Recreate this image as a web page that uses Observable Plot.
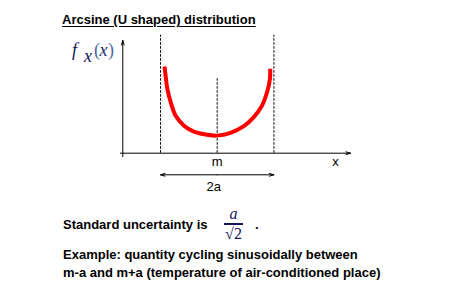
<!DOCTYPE html>
<html>
<head>
<meta charset="utf-8">
<script src="https://cdn.jsdelivr.net/npm/d3@7"></script>
<script src="https://cdn.jsdelivr.net/npm/@observablehq/plot@0.6"></script>
<style>
  html, body { margin: 0; padding: 0; background: #fff; }
  #page { position: relative; width: 461px; height: 291px; overflow: hidden; font-family: "Liberation Sans", Arial, sans-serif; color: #000; }
  .bold { position: absolute; font-weight: bold; font-size: 13px; white-space: nowrap; }
  #title { left: 62px; top: 12px; line-height: 15px; text-decoration: underline; text-underline-offset: 1.5px; }
  #chart { position: absolute; left: 0; top: 30px; }
  .math { position: absolute; font-family: "Liberation Serif", "Times New Roman", serif; font-size: 18px; line-height: 18px; white-space: nowrap; }
  .math.it { font-style: italic; }
  .ink { color: #14145e; }
  .soft { color: #4a66a0; }
  #uncert { left: 63px; top: 217px; line-height: 15px; }
  #frac { position: absolute; left: 224px; top: 206px; width: 19px; text-align: center; font-family: "Liberation Serif", "Times New Roman", serif; color: #14145e; }
  #frac .num { font-style: italic; font-size: 16px; line-height: 16px; height: 16px; }
  #frac .bar { height: 2px; background: #14145e; margin: 1px 0 0 0; }
  #frac .den { font-size: 16px; line-height: 18px; }
  #frac .den span { border-top: 1.5px solid #14145e; }
  #dot { left: 255px; top: 217px; line-height: 15px; }
  #example { left: 63px; top: 245.5px; line-height: 18px; }
</style>
</head>
<body>
<div id="page">
  <div id="title" class="bold">Arcsine (U shaped) distribution</div>
  <div id="chart"></div>
  <span class="math it ink" style="left:72px;top:41px">f</span>
  <span class="math it ink" style="left:84px;top:46.5px">x</span>
  <span class="math soft" style="left:94px;top:41px">(</span>
  <span class="math it ink" style="left:99.5px;top:41px;color:#1e2e72">x</span>
  <span class="math soft" style="left:108px;top:41px">)</span>
  <div id="uncert" class="bold">Standard uncertainty is</div>
  <div id="frac"><div class="num">a</div><div class="bar"></div><div class="den">√<span>2</span></div></div>
  <div id="dot" class="bold">.</div>
  <div id="example" class="bold">Example: quantity cycling sinusoidally between<br>m-a and m+a (temperature of air-conditioned place)</div>
</div>
<script>
// U-shaped density, x in units of a around the mean m, height in the same units
const densityX = [-0.93, -0.91, -0.88, -0.82, -0.735, -0.59, -0.41, -0.18, 0, 0.235, 0.47, 0.645, 0.79, 0.88, 0.93, 0.935];
const densityY = [1.53, 1.37, 1.14, 0.90, 0.665, 0.49, 0.38, 0.325, 0.31, 0.36, 0.476, 0.635, 0.84, 1.08, 1.31, 1.49];

// vertical guides at m-a, m, m+a
const guideX = [-1, 0, 1];
const guideTop = [2.08, 1.34, 2.08];

// axis extents
const xAxisFrom = -1.706, xAxisTo = 2.351;
const yAxisAt = -1.665, yAxisFrom = -0.06, yAxisTo = 1.988;

// labels under the x axis
const tickLabels = ["m", "x"];
const tickLabelX = [0, 2.086];
const tickLabelY = -0.16;

// width of the interval (2a)
const spanLabel = "2a";
const spanFrom = -1, spanTo = 1, spanY = -0.381;

const curve = densityX.map((x, i) => ({x, y: densityY[i]}));
const guides = guideX.map((x, i) => ({x, top: guideTop[i]}));
const ticks = tickLabels.map((t, i) => ({t, x: tickLabelX[i]}));

const font = "Liberation Sans, Arial, sans-serif";
const head = {headLength: 7, headAngle: 34, stroke: "black", strokeWidth: 1};

const chart = Plot.plot({
  width: 461,
  height: 175,
  margin: 0,
  x: {domain: [-1, 1], range: [160, 273.4], axis: null},
  y: {domain: [0, 1], range: [122.7, 66], axis: null},
  style: {overflow: "visible", background: "transparent"},
  marks: [
    Plot.ruleX(guides, {x: "x", y1: 0, y2: "top", stroke: "black", strokeWidth: 1, strokeDasharray: "2.5,1.5"}),
    Plot.arrow([{}], {x1: xAxisFrom, x2: xAxisTo, y1: 0, y2: 0, ...head}),
    Plot.arrow([{}], {x1: yAxisAt, x2: yAxisAt, y1: yAxisFrom, y2: yAxisTo, ...head}),
    Plot.arrow([{}], {x1: (spanFrom + spanTo) / 2, x2: spanFrom, y1: spanY, y2: spanY, ...head}),
    Plot.arrow([{}], {x1: (spanFrom + spanTo) / 2, x2: spanTo, y1: spanY, y2: spanY, ...head}),
    Plot.line(curve, {x: "x", y: "y", stroke: "#ff0000", strokeWidth: 4, curve: "catmull-rom", strokeLinecap: "butt"}),
    Plot.text(ticks, {x: "x", y: tickLabelY, text: "t", fontSize: 13, fontFamily: font, fill: "black"}),
    Plot.text([spanLabel], {x: -0.06, y: -0.6, text: d => d, fontSize: 13, fontFamily: font, fill: "black"})
  ]
});
document.getElementById("chart").append(chart);
</script>
</body>
</html>
